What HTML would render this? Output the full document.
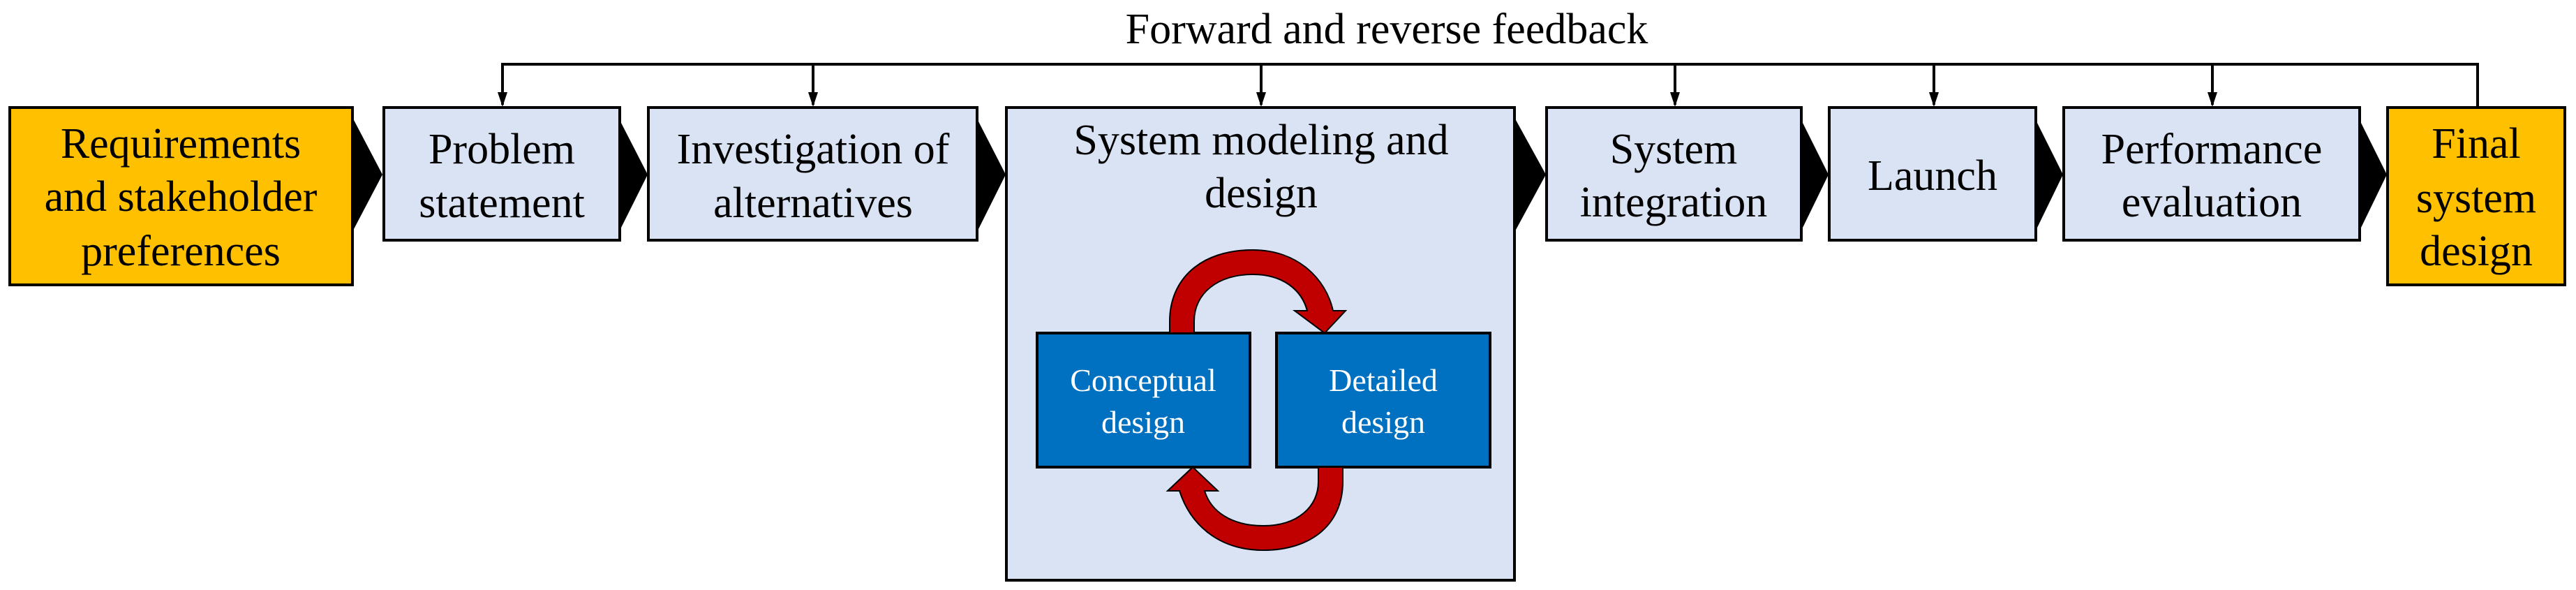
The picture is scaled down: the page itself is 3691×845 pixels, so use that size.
<!DOCTYPE html>
<html><head><meta charset="utf-8"><style>html,body{margin:0;padding:0;background:#fff}svg{display:block}svg text{font-family:"Liberation Serif","DejaVu Serif",serif}</style></head><body>
<svg width="3691" height="845" viewBox="0 0 3691 845" xmlns="http://www.w3.org/2000/svg">
<text x="1987" y="62" font-size="62" text-anchor="middle">Forward and reverse feedback</text>
<g stroke="#000" stroke-width="4" fill="none">
<polyline points="720,150 720,92 3550,92 3550,153"/>
<line x1="1165" y1="92" x2="1165" y2="150"/>
<line x1="1807" y1="92" x2="1807" y2="150"/>
<line x1="2400" y1="92" x2="2400" y2="150"/>
<line x1="2771" y1="92" x2="2771" y2="150"/>
<line x1="3170" y1="92" x2="3170" y2="150"/>
</g>
<g fill="#000">
<polygon points="713,132 727,132 720,153"/>
<polygon points="1158,132 1172,132 1165,153"/>
<polygon points="1800,132 1814,132 1807,153"/>
<polygon points="2393,132 2407,132 2400,153"/>
<polygon points="2764,132 2778,132 2771,153"/>
<polygon points="3163,132 3177,132 3170,153"/>
</g>
<g stroke="#000" stroke-width="4">
<rect x="14" y="154" width="491" height="254" fill="#FFC000"/>
<rect x="550" y="154" width="338" height="190" fill="#DAE3F3"/>
<rect x="929" y="154" width="471" height="190" fill="#DAE3F3"/>
<rect x="1442" y="154" width="728" height="677" fill="#DAE3F3"/>
<rect x="2216" y="154" width="365" height="190" fill="#DAE3F3"/>
<rect x="2621" y="154" width="296" height="190" fill="#DAE3F3"/>
<rect x="2957" y="154" width="424" height="190" fill="#DAE3F3"/>
<rect x="3421" y="154" width="254" height="254" fill="#FFC000"/>
<rect x="1486" y="477" width="305" height="192" fill="#0070C0"/>
<rect x="1829" y="477" width="306" height="192" fill="#0070C0"/>
</g>
<g fill="#000">
<polygon points="507,172 548,250 507,328"/>
<polygon points="890,176 928,250 890,326"/>
<polygon points="1402,174 1441,250 1402,328"/>
<polygon points="2172,172 2215,250 2172,329"/>
<polygon points="2583,176 2620,250 2583,326"/>
<polygon points="2919,176 2956,250 2919,326"/>
<polygon points="3383,176 3420,250 3383,326"/>
</g>
<g fill="#C00000" stroke="#000" stroke-width="2">
<path d="M1676,477 L1676,460 C1676,400 1720,358 1795,358 C1860,358 1900,400 1910,445 L1928,445 L1898,477 L1855,445 L1873,445 C1865,415 1838,393 1795,393 C1745,393 1711,420 1711,460 L1711,477 Z"/>
<path d="M1924,669 L1924,690 C1924,750 1880,788 1810,788 C1745,788 1705,750 1690,703 L1673,703 L1709,669 L1745,703 L1726,703 C1735,733 1765,753 1810,753 C1860,753 1889,725 1889,690 L1889,669 Z"/>
</g>
<g font-size="62" text-anchor="middle" fill="#000">
<text x="259" y="226">Requirements</text>
<text x="259" y="302">and stakeholder</text>
<text x="259" y="380">preferences</text>
<text x="719" y="234">Problem</text>
<text x="719" y="311">statement</text>
<text x="1165" y="234">Investigation of</text>
<text x="1165" y="311">alternatives</text>
<text x="1807" y="221">System modeling and</text>
<text x="1807" y="297">design</text>
<text x="2398" y="234">System</text>
<text x="2398" y="310">integration</text>
<text x="2769" y="272">Launch</text>
<text x="3169" y="234">Performance</text>
<text x="3169" y="310">evaluation</text>
<text x="3548" y="226">Final</text>
<text x="3548" y="304">system</text>
<text x="3548" y="380">design</text>
</g>
<g font-size="46" text-anchor="middle" fill="#fff">
<text x="1638" y="560">Conceptual</text>
<text x="1638" y="620">design</text>
<text x="1982" y="560">Detailed</text>
<text x="1982" y="620">design</text>
</g>
</svg>
</body></html>
